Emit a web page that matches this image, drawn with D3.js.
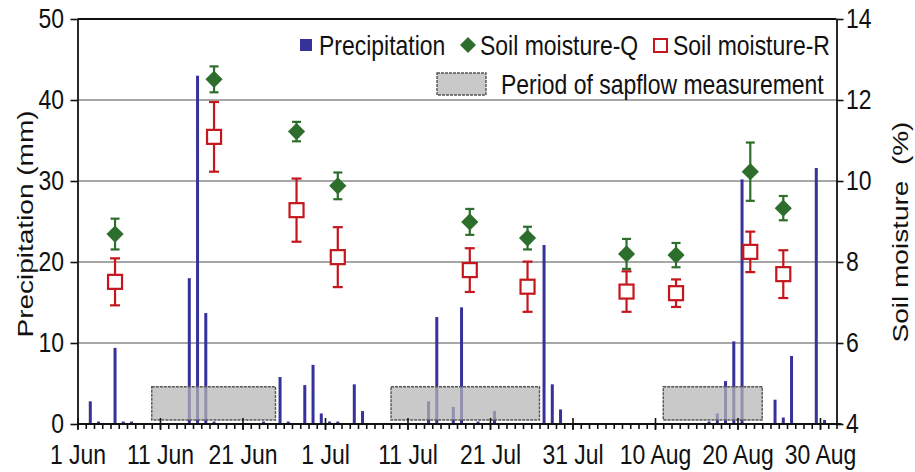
<!DOCTYPE html>
<html>
<head>
<meta charset="utf-8">
<script src="https://cdn.jsdelivr.net/npm/d3@7"></script>
<style>
  html, body { margin: 0; padding: 0; background: #fff; }
  svg { display: block; }
  text { font-family: "Liberation Sans", Arial, Helvetica, sans-serif; fill: #111; }
</style>
</head>
<body>
<svg id="chart" width="915" height="472"></svg>
<script>
// Daily precipitation (mm), dated mm-dd
const rainDates = ["06-02","06-03","06-05","06-06","06-07","06-14","06-15","06-16","06-17",
  "06-23","06-25","06-26","06-28","06-29","06-30","07-01","07-02","07-04","07-05",
  "07-13","07-14","07-16","07-17","07-19","07-21","07-27","07-28","07-29",
  "08-16","08-17","08-18","08-19","08-20","08-24","08-25","08-26","08-29","08-30"];
const rainValues = [2.8,0.3,9.4,0.3,0.3,18.0,43.0,13.7,0.3,
  0.3,5.8,0.3,4.8,7.3,1.3,0.3,0.3,4.9,1.6,
  2.8,13.2,2.1,14.4,0.3,1.6,22.1,4.9,1.8,
  0.3,1.3,5.3,10.2,30.2,3.0,0.8,8.4,31.6,0.5];

// Soil moisture sampling dates, means and error-bar half widths (%)
const soilDates = ["06-05","06-17","06-27","07-02","07-18","07-25","08-06","08-12","08-21","08-25"];
const soilQ     = [8.69,12.51,11.22,9.88,8.99,8.59,8.20,8.17,10.23,9.33];
const soilQErr  = [0.38,0.32,0.24,0.33,0.32,0.28,0.37,0.30,0.72,0.30];
const soilR     = [7.51,11.09,9.28,8.12,7.80,7.39,7.27,7.23,8.25,7.70];
const soilRErr  = [0.58,0.86,0.78,0.74,0.54,0.62,0.50,0.34,0.50,0.59];

// Sap-flow measurement periods (start, end)
const sapStart = ["06-10","07-09","08-11"];
const sapEnd   = ["06-25","07-27","08-23"];

// Axis ticks
const dateTicks  = ["06-01","06-11","06-21","07-01","07-11","07-21","07-31","08-10","08-20","08-30"];
const dateLabels = ["1 Jun","11 Jun","21 Jun","1 Jul","11 Jul","21 Jul","31 Jul","10 Aug","20 Aug","30 Aug"];
const precipTicks = [0,10,20,30,40,50];
const soilTicks   = [4,6,8,10,12,14];

const parse = d3.timeParse("%Y-%m-%d");
const toDate = s => parse("2010-" + s);

const svg = d3.select("#chart");
const FONT = 28;      // px
const SX = 0.82;      // horizontal text compression

const x  = d3.scaleTime().domain([toDate("06-01"), toDate("09-01")]).range([77.5, 836.5]);
const yP = d3.scaleLinear().domain([0, 50]).range([424, 19]);
const yS = d3.scaleLinear().domain([4, 14]).range([424, 19]);
const dayW = x(toDate("06-02")) - x(toDate("06-01"));
const cx = s => x(toDate(s)) + 0.55 * dayW;   // centre of a day slot

const colBar = "#36329a", colQ = "#2e6e2c", colR = "#c4161c";

// Gridlines
svg.append("g").selectAll("line").data([10,20,30,40]).join("line")
  .attr("x1", x.range()[0]).attr("x2", x.range()[1])
  .attr("y1", d => yP(d)).attr("y2", d => yP(d))
  .attr("stroke", "#8a8a8a").attr("stroke-width", 1.6);

// Precipitation bars
svg.append("g").selectAll("rect").data(rainDates.map((d, i) => ({d, v: rainValues[i]}))).join("rect")
  .attr("x", d => cx(d.d) - 1.5).attr("width", 3)
  .attr("y", d => yP(d.v)).attr("height", d => yP(0) - yP(d.v))
  .attr("fill", colBar);

// Sap-flow periods
svg.append("g").selectAll("rect").data(sapStart.map((s, i) => ({s, e: sapEnd[i]}))).join("rect")
  .attr("x", d => x(toDate(d.s))).attr("width", d => x(toDate(d.e)) - x(toDate(d.s)))
  .attr("y", yP(4.6)).attr("height", yP(0.5) - yP(4.6))
  .attr("fill", "#b4b4b4").attr("fill-opacity", 0.72)
  .attr("stroke", "#555").attr("stroke-width", 1.4).attr("stroke-dasharray", "3,1");

// Error bars helper
function errorBars(vals, errs, color, capW) {
  const g = svg.append("g").attr("stroke", color).attr("stroke-width", 2.2);
  soilDates.forEach((d, i) => {
    const xc = cx(d), t = yS(vals[i] + errs[i]), b = yS(vals[i] - errs[i]);
    g.append("line").attr("x1", xc).attr("x2", xc).attr("y1", t).attr("y2", b);
    g.append("line").attr("x1", xc - capW/2).attr("x2", xc + capW/2).attr("y1", t).attr("y2", t);
    g.append("line").attr("x1", xc - capW/2).attr("x2", xc + capW/2).attr("y1", b).attr("y2", b);
  });
}
errorBars(soilR, soilRErr, colR, 10);
errorBars(soilQ, soilQErr, colQ, 9);

// Soil moisture-R: open squares
svg.append("g").selectAll("rect").data(soilDates.map((d, i) => ({d, v: soilR[i]}))).join("rect")
  .attr("x", d => cx(d.d) - 7).attr("y", d => yS(d.v) - 7)
  .attr("width", 14).attr("height", 14)
  .attr("fill", "#fff").attr("stroke", colR).attr("stroke-width", 2.2);

// Soil moisture-Q: filled diamonds
const diamond = r => `M0,${-r}L${r},0L0,${r}L${-r},0Z`;
svg.append("g").selectAll("path").data(soilDates.map((d, i) => ({d, v: soilQ[i]}))).join("path")
  .attr("transform", d => `translate(${cx(d.d)},${yS(d.v)})`)
  .attr("d", diamond(8.6)).attr("fill", colQ);

// Axes
const axisStyle = g => {
  g.selectAll(".domain").attr("stroke", "#111").attr("stroke-width", 1.8);
  g.selectAll(".tick line").attr("stroke", "#111").attr("stroke-width", 1.6);
  g.selectAll("text").attr("font-size", FONT).attr("font-family", null).attr("fill", "#111");
};

// top frame line
svg.append("line").attr("x1", x.range()[0]).attr("x2", x.range()[1])
  .attr("y1", yP(50)).attr("y2", yP(50)).attr("stroke", "#111").attr("stroke-width", 1.8);

const gLeft = svg.append("g").attr("transform", `translate(${x.range()[0]},0)`)
  .call(d3.axisLeft(yP).tickValues(precipTicks).tickSize(7).tickSizeOuter(0).tickPadding(6.5))
  .call(axisStyle);
gLeft.selectAll("text").attr("x", -13.5 / SX).attr("transform", `scale(${SX},1)`);

const gRight = svg.append("g").attr("transform", `translate(${x.range()[1]},0)`)
  .call(d3.axisRight(yS).tickValues(soilTicks).tickSize(7).tickSizeOuter(0).tickPadding(2.5))
  .call(axisStyle);
gRight.selectAll("text").attr("x", 9.5 / SX).attr("transform", `scale(${SX},1)`);

// daily minor ticks
const gMinor = svg.append("g").attr("transform", `translate(0,${yP(0)})`)
  .call(d3.axisBottom(x).ticks(d3.timeDay.every(1)).tickSize(5).tickSizeOuter(0).tickFormat(""))
  .call(axisStyle);
gMinor.select(".domain").attr("d", `M${x.range()[0]},0H${x.range()[1] + 5}`);

// major ticks with date labels
const fmtMap = new Map(dateTicks.map((d, i) => [+toDate(d), dateLabels[i]]));
const gMajor = svg.append("g").attr("transform", `translate(0,${yP(0)})`)
  .call(d3.axisBottom(x).tickValues(dateTicks.map(toDate)).tickSize(6).tickPadding(14)
        .tickFormat(d => fmtMap.get(+d)))
  .call(axisStyle);
gMajor.select(".domain").remove();
gMajor.selectAll(".tick line").attr("y1", -6).attr("y2", 6);
gMajor.selectAll("text").attr("transform", `scale(${SX},1)`);

// Axis titles
svg.append("text").attr("transform", `translate(25,224) scale(${SX},1) rotate(-90)`)
  .attr("text-anchor", "middle").attr("dominant-baseline", "central")
  .attr("font-size", FONT).text("Precipitation (mm)");
svg.append("text").attr("transform", `translate(900,232) scale(${SX},1) rotate(-90)`)
  .attr("text-anchor", "middle").attr("dominant-baseline", "central")
  .attr("font-size", FONT).attr("xml:space", "preserve").text("Soil moisture  (%)");

// Legend
const leg = svg.append("g");
const legText = (tx, ty, s) => leg.append("text")
  .attr("transform", `translate(${tx},${ty}) scale(${SX},1)`)
  .attr("font-size", FONT).text(s);
leg.append("rect").attr("x", 300).attr("y", 39).attr("width", 12).attr("height", 12).attr("fill", colBar);
legText(319, 55, "Precipitation");
leg.append("path").attr("transform", "translate(468,45)").attr("d", diamond(8)).attr("fill", colQ);
legText(480, 55, "Soil moisture-Q");
leg.append("rect").attr("x", 654).attr("y", 39).attr("width", 13).attr("height", 13)
  .attr("fill", "#fff").attr("stroke", colR).attr("stroke-width", 2);
legText(673, 55, "Soil moisture-R");
leg.append("rect").attr("x", 437).attr("y", 73).attr("width", 49).attr("height", 22)
  .attr("fill", "#b4b4b4").attr("fill-opacity", 0.72)
  .attr("stroke", "#555").attr("stroke-width", 1.4).attr("stroke-dasharray", "3,1");
legText(501, 94, "Period of sapflow measurement");
</script>
</body>
</html>
